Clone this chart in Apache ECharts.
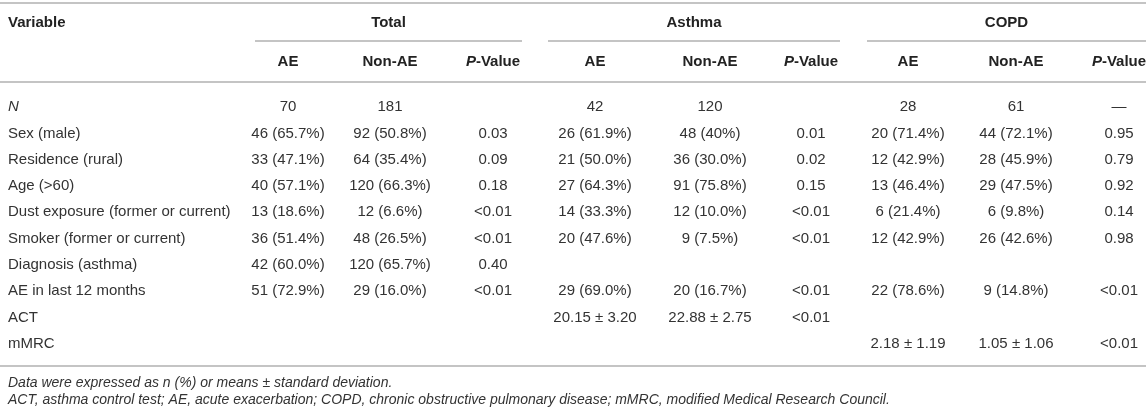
<!DOCTYPE html>
<html>
<head>
<meta charset="utf-8">
<script src="https://cdn.jsdelivr.net/npm/echarts@6/dist/echarts.min.js"></script>
<style>
  html, body { margin: 0; padding: 0; background: #fff; }
  #main { width: 1146px; height: 412px; }
</style>
</head>
<body>
<div id="main"></div>
<script>
const variables = [
  "N", "Sex (male)", "Residence (rural)", "Age (>60)",
  "Dust exposure (former or current)", "Smoker (former or current)",
  "Diagnosis (asthma)", "AE in last 12 months", "ACT", "mMRC",
];
const totalAE = ["70", "46 (65.7%)", "33 (47.1%)", "40 (57.1%)", "13 (18.6%)", "36 (51.4%)", "42 (60.0%)", "51 (72.9%)", "", ""];
const totalNonAE = ["181", "92 (50.8%)", "64 (35.4%)", "120 (66.3%)", "12 (6.6%)", "48 (26.5%)", "120 (65.7%)", "29 (16.0%)", "", ""];
const totalP = ["", "0.03", "0.09", "0.18", "<0.01", "<0.01", "0.40", "<0.01", "", ""];
const asthmaAE = ["42", "26 (61.9%)", "21 (50.0%)", "27 (64.3%)", "14 (33.3%)", "20 (47.6%)", "", "29 (69.0%)", "20.15 ± 3.20", ""];
const asthmaNonAE = ["120", "48 (40%)", "36 (30.0%)", "91 (75.8%)", "12 (10.0%)", "9 (7.5%)", "", "20 (16.7%)", "22.88 ± 2.75", ""];
const asthmaP = ["", "0.01", "0.02", "0.15", "<0.01", "<0.01", "", "<0.01", "<0.01", ""];
const copdAE = ["28", "20 (71.4%)", "12 (42.9%)", "13 (46.4%)", "6 (21.4%)", "12 (42.9%)", "", "22 (78.6%)", "", "2.18 ± 1.19"];
const copdNonAE = ["61", "44 (72.1%)", "28 (45.9%)", "29 (47.5%)", "6 (9.8%)", "26 (42.6%)", "", "9 (14.8%)", "", "1.05 ± 1.06"];
const copdP = ["—", "0.95", "0.79", "0.92", "0.14", "0.98", "", "<0.01", "", "<0.01"];

const groups = ["Total", "Asthma", "COPD"];
const subHeaders = ["AE", "Non-AE", "P-Value"];
const footnotes = [
  "Data were expressed as n (%) or means ± standard deviation.",
  "ACT, asthma control test; AE, acute exacerbation; COPD, chronic obstructive pulmonary disease; mMRC, modified Medical Research Council.",
];

// layout
const W = 1146;
const colX = [8, 288, 390, 493, 595, 710, 811, 908, 1016, 1119];
const groupSpan = [[255, 522], [548, 840], [867, 1146]];
const FONT = "'Liberation Sans', Arial, Helvetica, sans-serif";
const lineColor = "#b0b0b0";

const columns = [variables, totalAE, totalNonAE, totalP, asthmaAE, asthmaNonAE, asthmaP, copdAE, copdNonAE, copdP];
const cells = [];
columns.forEach((col, c) => {
  col.forEach((txt, r) => {
    if (txt !== "") cells.push([colX[c], r, txt, c]);
  });
});

const graphic = [];
function hline(y, x1, x2) {
  graphic.push({
    type: "line",
    shape: { x1: x1, y1: y, x2: x2, y2: y },
    style: { stroke: lineColor, lineWidth: 1.6 },
  });
}
function label(x, y, text, align, rich) {
  graphic.push({
    type: "text",
    x: x,
    y: y,
    style: {
      text: text,
      align: align,
      verticalAlign: "middle",
      font: "bold 15px " + FONT,
      fill: "#222",
      rich: rich,
    },
  });
}

hline(3, 0, W);
hline(41, groupSpan[0][0], groupSpan[0][1]);
hline(41, groupSpan[1][0], groupSpan[1][1]);
hline(41, groupSpan[2][0], groupSpan[2][1]);
hline(82, 0, W);
hline(366, 0, W);

label(colX[0], 23, "Variable", "left");
groups.forEach((g, i) => {
  label((groupSpan[i][0] + groupSpan[i][1]) / 2, 23, g, "center");
  subHeaders.forEach((s, j) => {
    const x = colX[1 + i * 3 + j];
    if (s === "P-Value") {
      label(x, 62, "{i|P}{b|-Value}", "center", {
        i: { font: "italic bold 15px " + FONT, fill: "#222" },
        b: { font: "bold 15px " + FONT, fill: "#222" },
      });
    } else {
      label(x, 62, s, "center");
    }
  });
});

footnotes.forEach((f, i) => {
  graphic.push({
    type: "text",
    x: 8,
    y: 383 + i * 17,
    style: {
      text: f,
      align: "left",
      verticalAlign: "middle",
      font: "italic 14px " + FONT,
      fill: "#333",
    },
  });
});

const chart = echarts.init(document.getElementById("main"));
chart.setOption({
  animation: false,
  grid: { left: 0, right: 0, top: 94, height: 263 },
  xAxis: { type: "value", min: 0, max: W, show: false },
  yAxis: { type: "category", data: variables, inverse: true, show: false },
  graphic: graphic,
  series: [
    {
      type: "custom",
      data: cells,
      renderItem: function (params, api) {
        const cell = cells[params.dataIndex];
        const p = api.coord([cell[0], cell[1]]);
        const isName = cell[3] === 0;
        const italic = isName && cell[2] === "N";
        return {
          type: "text",
          x: p[0],
          y: p[1],
          style: {
            text: cell[2],
            align: isName ? "left" : "center",
            verticalAlign: "middle",
            font: (italic ? "italic " : "") + "15px " + FONT,
            fill: "#333",
          },
        };
      },
    },
  ],
});
</script>
</body>
</html>
